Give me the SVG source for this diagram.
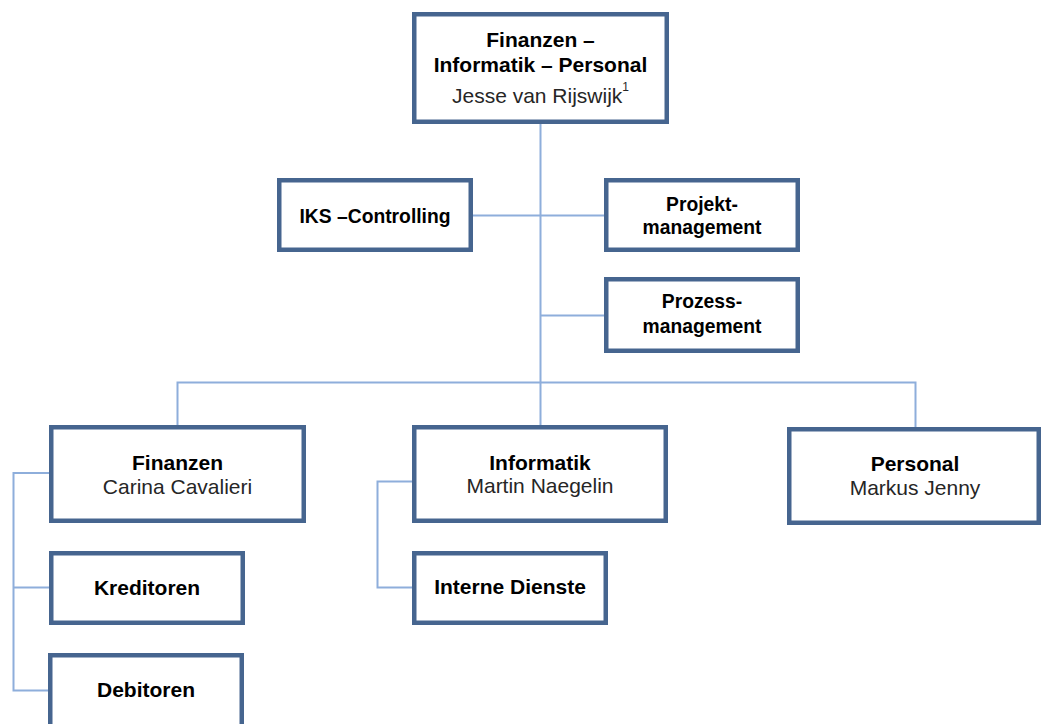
<svg xmlns="http://www.w3.org/2000/svg" width="1041" height="724" viewBox="0 0 1041 724">
<style>
.box{fill:#ffffff;stroke:#46658f;stroke-width:4.5;}
.b{font-family:"Liberation Sans",Arial,sans-serif;font-weight:bold;fill:#000;text-anchor:middle;font-size:21px;}
.s{font-size:19.3px;}
.n{font-family:"Liberation Sans",Arial,sans-serif;fill:#262626;text-anchor:middle;font-size:21px;}
.c{fill:none;stroke:#8eaedb;stroke-width:2;}
</style>
<rect width="1041" height="724" fill="#ffffff"/>
<g id="connectors">
<path class="c" d="M540.5,124 V425"/>
<path class="c" d="M473,215.5 H604"/>
<path class="c" d="M540.5,315.5 H604"/>
<path class="c" d="M177.5,425 V382.5 H915.5 V427"/>
<path class="c" d="M49,473 H13.5 V690.5 H48"/>
<path class="c" d="M13.5,587.5 H49"/>
<path class="c" d="M412,481.5 H377.5 V587.5 H412"/>
</g>
<g id="top">
<rect class="box" x="414.25" y="14.25" width="252.5" height="107.5"/>
<text class="b" x="540.5" y="47">Finanzen –</text>
<text class="b" x="540.5" y="72">Informatik – Personal</text>
<text class="n" x="540.5" y="103">Jesse van Rijswijk<tspan font-size="12" dy="-12">1</tspan></text>
</g>
<g id="iks">
<rect class="box" x="279.25" y="180.25" width="191.5" height="69.5"/>
<text class="b s" x="375" y="223">IKS –Controlling</text>
</g>
<g id="projekt">
<rect class="box" x="606.25" y="180.25" width="191.5" height="69.5"/>
<text class="b s" x="702" y="211">Projekt-</text>
<text class="b s" x="702" y="234">management</text>
</g>
<g id="prozess">
<rect class="box" x="606.25" y="279.25" width="191.5" height="71.5"/>
<text class="b s" x="702" y="308">Prozess-</text>
<text class="b s" x="702" y="333">management</text>
</g>
<g id="finanzen">
<rect class="box" x="51.25" y="427.25" width="252.5" height="93.5"/>
<text class="b" x="177.5" y="470">Finanzen</text>
<text class="n" x="177.5" y="494">Carina Cavalieri</text>
</g>
<g id="informatik">
<rect class="box" x="414.25" y="427.25" width="251.5" height="93.5"/>
<text class="b" x="540" y="470">Informatik</text>
<text class="n" x="540" y="493">Martin Naegelin</text>
</g>
<g id="personal">
<rect class="box" x="789.25" y="429.25" width="249.5" height="93.5"/>
<text class="b" x="915" y="471">Personal</text>
<text class="n" x="915" y="495">Markus Jenny</text>
</g>
<g id="kreditoren">
<rect class="box" x="51.25" y="553.25" width="191.5" height="69.5"/>
<text class="b" x="147" y="595">Kreditoren</text>
</g>
<g id="debitoren">
<rect class="box" x="50.25" y="655.25" width="191.5" height="80"/>
<text class="b" x="146" y="697">Debitoren</text>
</g>
<g id="interne">
<rect class="box" x="414.25" y="553.25" width="191.5" height="69.5"/>
<text class="b" x="510" y="594">Interne Dienste</text>
</g>
</svg>
